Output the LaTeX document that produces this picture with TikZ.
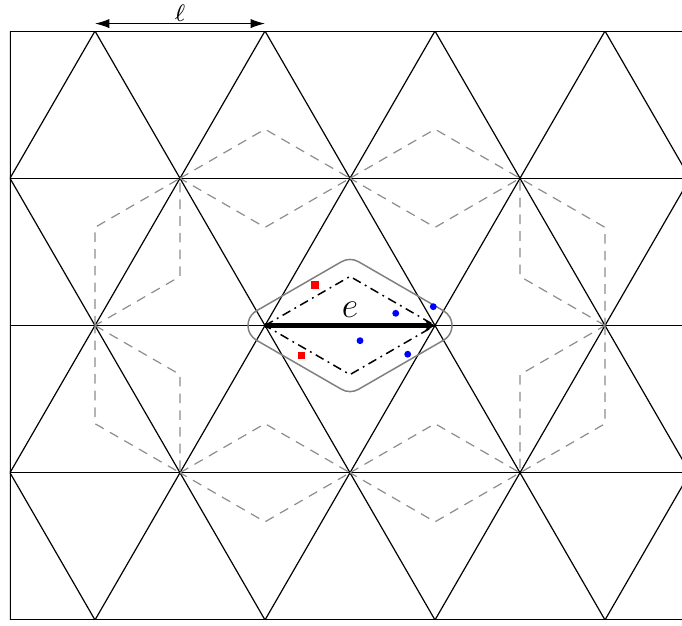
\documentclass[tikz,border=0pt]{standalone}
\usepackage{tikz}
\usetikzlibrary{arrows.meta,calc}

\begin{document}
\begin{tikzpicture}[x=1cm,y=1.7321cm,
  mesh/.style={black,line width=0.4pt},
  dualcell/.style={black!45,dash pattern=on 3.2pt off 2.4pt,line width=0.4pt},
  patch/.style={black,dash pattern=on 3pt off 1.6pt on 0.6pt off 1.6pt,line width=0.5pt},
  hull/.style={black!50,line width=0.5pt},
  redpt/.style={rectangle,fill=red,minimum size=2.4pt,inner sep=0pt},
  bluept/.style={circle,fill=blue,minimum size=2.3pt,inner sep=0pt}]
\useasboundingbox (-0.1176,-0.0408) rectangle (7.906,4.2111);
% lattice points
\foreach \j in {0,...,4}
  \foreach \i in {-1,...,10}
    \coordinate (v-\i-\j) at (\i,\j);
% triangulation
\begin{scope}
\clip (0,0) rectangle (7.906,4);
\foreach \j in {0,...,4}
  \draw[mesh] (v-0-\j) -- (v-10-\j);
\draw[mesh] (v-0-0) -- (v-0-4);
\foreach \j/\s in {0/1,1/0,2/1,3/0}
  \foreach \k in {0,...,4}{
    \pgfmathtruncatemacro\i{2*\k+\s}
    \pgfmathtruncatemacro\il{\i-1}
    \pgfmathtruncatemacro\ir{\i+1}
    \pgfmathtruncatemacro\ju{\j+1}
    \draw[mesh] (v-\il-\ju) -- (v-\i-\j) -- (v-\ir-\ju);
  }
\end{scope}
% dual cells of the ring edges
\foreach \a/\b in {2-3/4-3,4-3/6-3,2-1/4-1,4-1/6-1,1-2/2-3,1-2/2-1,7-2/6-3,7-2/6-1}
  \draw[dualcell] (v-\a) -- ($(v-\a)!0.5774!30:(v-\b)$) -- (v-\b)
    -- ($(v-\a)!0.5774!-30:(v-\b)$) -- cycle;
% the edge e and its patch
\coordinate (ctop) at ($(v-3-2)!0.5774!30:(v-5-2)$);
\coordinate (cbot) at ($(v-3-2)!0.5774!-30:(v-5-2)$);
\def\rr{0.2cm}
\draw[hull] ($(v-3-2)+(120:\rr)$) arc[start angle=120,end angle=240,radius=\rr]
  -- ($(cbot)+(240:\rr)$) arc[start angle=240,end angle=300,radius=\rr]
  -- ($(v-5-2)+(300:\rr)$) arc[start angle=300,end angle=420,radius=\rr]
  -- ($(ctop)+(60:\rr)$) arc[start angle=60,end angle=120,radius=\rr] -- cycle;
\draw[patch] (v-3-2) -- (ctop) -- (v-5-2) -- (cbot) -- cycle;
\draw[line width=1.7pt,-{Stealth[length=1.2mm,width=1.4mm]}] (v-3-2)
  -- node[above=2pt,inner sep=0pt,font=\large] (elab) {$e$} (v-5-2);
\node[redpt] (r1) at (3.588,2.275) {};
\node[redpt] (r2) at (3.432,1.798) {};
\node[bluept] (b1) at (4.538,2.083) {};
\node[bluept] (b2) at (4.980,2.128) {};
\node[bluept] (b3) at (4.118,1.897) {};
\node[bluept] (b4) at (4.679,1.805) {};
% length of an edge
\coordinate (l1) at ([yshift=0.088cm]v-1-4);
\coordinate (l2) at ([yshift=0.088cm]v-3-4);
\draw[line width=0.4pt,{Latex[length=1.7mm,width=1.1mm]}-{Latex[length=1.7mm,width=1.1mm]}] (l1)
  -- node[above=0.5pt,inner sep=0pt,font=\footnotesize] (llab) {$\ell$} (l2);
\end{tikzpicture}
\end{document}
